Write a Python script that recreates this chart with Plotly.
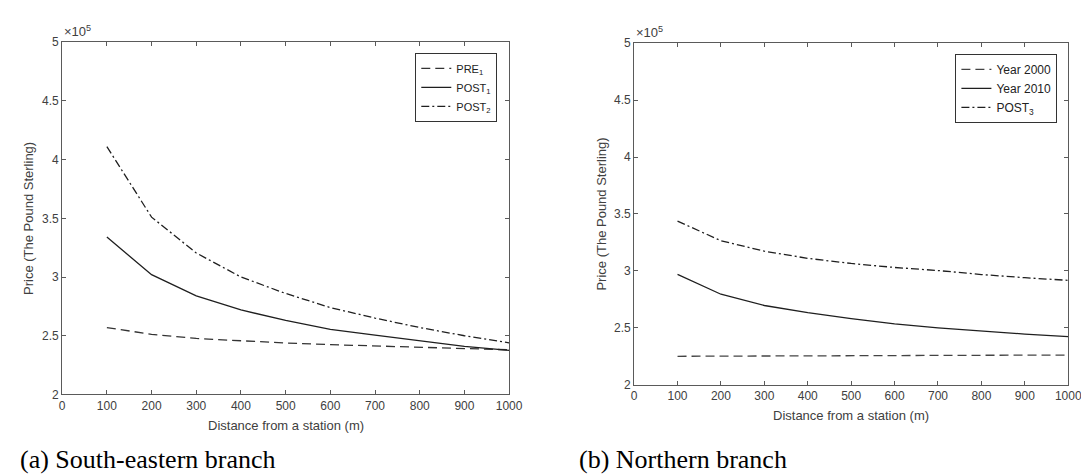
import plotly.graph_objects as go

W, H = 1089, 474

distance = [100, 200, 300, 400, 500, 600, 700, 800, 900, 1000]

# (a) South-eastern branch
se_pre1 = [257000, 251200, 247700, 245500, 243800, 242400, 241300, 240000, 239400, 238000]
se_post1 = [334000, 302000, 284000, 272000, 263000, 255500, 250500, 246000, 241000, 237500]
se_post2 = [411000, 351000, 320500, 300000, 286000, 274000, 265000, 257000, 250000, 244000]

# (b) Northern branch
n_2000 = [225000, 225200, 225400, 225500, 225600, 225700, 225800, 225900, 226000, 226000]
n_2010 = [297000, 279500, 269600, 263300, 258000, 253400, 250000, 247000, 244500, 242300]
n_post3 = [343700, 326500, 317300, 311000, 306500, 303000, 300300, 296800, 294000, 291700]

x_ticks = [0, 100, 200, 300, 400, 500, 600, 700, 800, 900, 1000]
y_tickvals = [200000, 250000, 300000, 350000, 400000, 450000, 500000]
y_ticktext = ["2", "2.5", "3", "3.5", "4", "4.5", "5"]

LINE = "#1f1f1f"
AX = "#5a5a5a"
TXT = "#404040"
SANS = "Liberation Sans, Arial, sans-serif"
SERIF = "Liberation Serif, Times New Roman, serif"

DASH = "9px,5px"
DASHDOT = "8px,3px,2px,3px"


def px(xp):
    return xp / W


def py(yp):
    return 1 - yp / H


fig = go.Figure()

fig.add_trace(go.Scatter(x=distance, y=se_pre1, mode="lines", name="PRE<sub>1</sub>",
                         line=dict(color="#333333", width=1.3, dash=DASH),
                         xaxis="x", yaxis="y", legend="legend"))
fig.add_trace(go.Scatter(x=distance, y=se_post1, mode="lines", name="POST<sub>1</sub>",
                         line=dict(color=LINE, width=1.3),
                         xaxis="x", yaxis="y", legend="legend"))
fig.add_trace(go.Scatter(x=distance, y=se_post2, mode="lines", name="POST<sub>2</sub>",
                         line=dict(color=LINE, width=1.3, dash=DASHDOT),
                         xaxis="x", yaxis="y", legend="legend"))

fig.add_trace(go.Scatter(x=distance, y=n_2000, mode="lines", name="Year 2000",
                         line=dict(color="#444444", width=1.3, dash=DASH),
                         xaxis="x2", yaxis="y2", legend="legend2"))
fig.add_trace(go.Scatter(x=distance, y=n_2010, mode="lines", name="Year 2010",
                         line=dict(color=LINE, width=1.3),
                         xaxis="x2", yaxis="y2", legend="legend2"))
fig.add_trace(go.Scatter(x=distance, y=n_post3, mode="lines", name="POST<sub>3</sub>",
                         line=dict(color=LINE, width=1.3, dash=DASHDOT),
                         xaxis="x2", yaxis="y2", legend="legend2"))

axis_common = dict(showgrid=False, zeroline=False, showline=True, linecolor=AX, linewidth=1,
                   mirror="ticks", ticks="inside", ticklen=4, tickcolor=AX, tickwidth=1,
                   tickfont=dict(family=SANS, size=12, color=TXT))

fig.update_layout(
    width=W, height=H,
    margin=dict(l=0, r=0, t=0, b=0),
    paper_bgcolor="white", plot_bgcolor="white",
    showlegend=True,
    xaxis=dict(domain=[px(52), px(506)], range=[0, 1000], tickvals=x_ticks, anchor="y", **axis_common),
    yaxis=dict(domain=[py(391), py(28)], range=[200000, 500000], tickvals=y_tickvals,
               ticktext=y_ticktext, anchor="x", **axis_common),
    xaxis2=dict(domain=[px(633), px(1074)], range=[0, 1000], tickvals=x_ticks, anchor="y2", **axis_common),
    yaxis2=dict(domain=[py(381), py(29)], range=[200000, 500000], tickvals=y_tickvals,
                ticktext=y_ticktext, anchor="x2", **axis_common),
    legend=dict(x=px(494), y=py(39), xanchor="right", yanchor="top",
                bordercolor="#333333", borderwidth=1, bgcolor="white",
                font=dict(family=SANS, size=11, color="#222222"),
                itemwidth=30, tracegroupgap=0),
    legend2=dict(x=px(1063), y=py(40), xanchor="right", yanchor="top",
                 bordercolor="#333333", borderwidth=1, bgcolor="white",
                 font=dict(family=SANS, size=12, color="#222222"),
                 itemwidth=30, tracegroupgap=0),
)

ann_font = dict(family=SANS, size=13, color=TXT)
annotations = [
    # axis titles
    dict(text="Distance from a station (m)", x=px(279), y=py(423), xref="paper", yref="paper",
         xanchor="center", yanchor="middle", showarrow=False, font=ann_font),
    dict(text="Distance from a station (m)", x=px(853), y=py(413), xref="paper", yref="paper",
         xanchor="center", yanchor="middle", showarrow=False, font=ann_font),
    dict(text="Price (The Pound Sterling)", x=px(18.5), y=py(210), xref="paper", yref="paper",
         xanchor="center", yanchor="middle", textangle=-90, showarrow=False, font=ann_font),
    dict(text="Price (The Pound Sterling)", x=px(600), y=py(205), xref="paper", yref="paper",
         xanchor="center", yanchor="middle", textangle=-90, showarrow=False, font=ann_font),
    # exponent labels
    dict(text="×10<sup>5</sup>", x=px(52), y=py(27), xref="paper", yref="paper",
         xanchor="left", yanchor="bottom", showarrow=False,
         font=dict(family=SANS, size=13, color=TXT)),
    dict(text="×10<sup>5</sup>", x=px(633), y=py(28), xref="paper", yref="paper",
         xanchor="left", yanchor="bottom", showarrow=False,
         font=dict(family=SANS, size=13, color=TXT)),
    # captions
    dict(text="(a) South-eastern branch", x=px(7), y=py(458), xref="paper", yref="paper",
         xanchor="left", yanchor="middle", showarrow=False,
         font=dict(family=SERIF, size=26, color="#000000")),
    dict(text="(b) Northern branch", x=px(575), y=py(458), xref="paper", yref="paper",
         xanchor="left", yanchor="middle", showarrow=False,
         font=dict(family=SERIF, size=26, color="#000000")),
]
fig.update_layout(annotations=annotations)

fig.write_html("out.html")
